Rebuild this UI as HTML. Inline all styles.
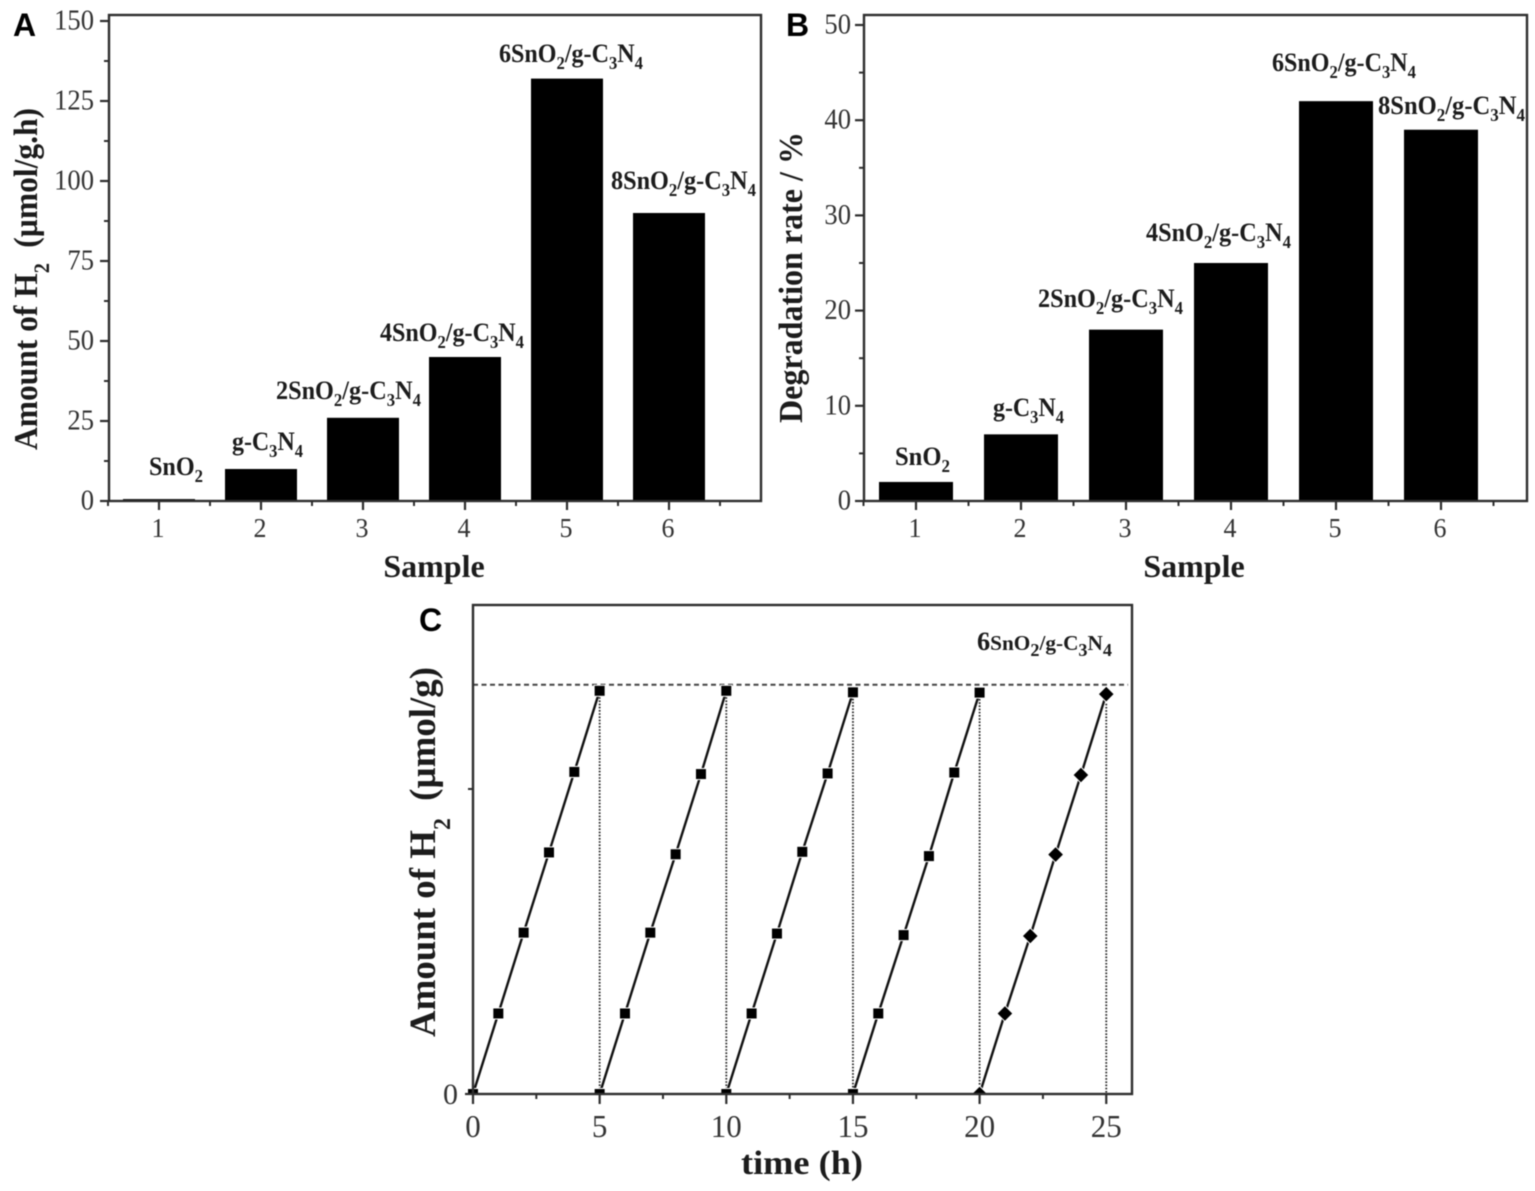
<!DOCTYPE html>
<html lang="en">
<head>
<meta charset="utf-8">
<title>SnO2/g-C3N4 photocatalysis charts</title>
<style>
  html, body { margin: 0; padding: 0; background: #fff; }
  svg { display: block; filter: blur(0.4px); }
  text { font-family: "Liberation Serif", serif; }
  .tick { fill: #333; }
  .title { font-size: 34px; font-weight: bold; fill: #1c1c1c; }
  .lab { font-size: 26px; font-weight: bold; fill: #1c1c1c; }
  .sub { font-size: 18px; }
  .panel { font-family: "Liberation Sans", sans-serif; font-size: 32px; font-weight: bold; fill: #000; }
</style>
</head>
<body>
<svg id="fig" xmlns="http://www.w3.org/2000/svg" width="1535" height="1191" viewBox="0 0 1535 1191">
  <defs>
    <clipPath id="clip-c"><rect x="460" y="600" width="680" height="494"></rect></clipPath>
  </defs>
  <rect width="1535" height="1191" fill="#fff"></rect>

  <g id="panel-a"></g>
  <g id="panel-b"></g>
  <g id="panel-c"></g>

  <text class="panel" x="13" y="36">A</text>
  <text class="panel" x="786" y="36">B</text>
  <text class="panel" x="419" y="631">C</text>

  <!-- Panel A annotations -->
  <text class="lab" x="149" y="475" textLength="54" lengthAdjust="spacingAndGlyphs">SnO<tspan class="sub" dy="7">2</tspan></text>
  <text class="lab" x="232" y="450" textLength="71" lengthAdjust="spacingAndGlyphs">g-C<tspan class="sub" dy="7">3</tspan><tspan dy="-7">N</tspan><tspan class="sub" dy="7">4</tspan></text>
  <text class="lab" x="276" y="399" textLength="145" lengthAdjust="spacingAndGlyphs">2SnO<tspan class="sub" dy="7">2</tspan><tspan dy="-7">/g-C</tspan><tspan class="sub" dy="7">3</tspan><tspan dy="-7">N</tspan><tspan class="sub" dy="7">4</tspan></text>
  <text class="lab" x="380" y="341" textLength="144" lengthAdjust="spacingAndGlyphs">4SnO<tspan class="sub" dy="7">2</tspan><tspan dy="-7">/g-C</tspan><tspan class="sub" dy="7">3</tspan><tspan dy="-7">N</tspan><tspan class="sub" dy="7">4</tspan></text>
  <text class="lab" x="499" y="62" textLength="144" lengthAdjust="spacingAndGlyphs">6SnO<tspan class="sub" dy="7">2</tspan><tspan dy="-7">/g-C</tspan><tspan class="sub" dy="7">3</tspan><tspan dy="-7">N</tspan><tspan class="sub" dy="7">4</tspan></text>
  <text class="lab" x="611" y="189" textLength="145" lengthAdjust="spacingAndGlyphs">8SnO<tspan class="sub" dy="7">2</tspan><tspan dy="-7">/g-C</tspan><tspan class="sub" dy="7">3</tspan><tspan dy="-7">N</tspan><tspan class="sub" dy="7">4</tspan></text>

  <!-- Panel B annotations -->
  <text class="lab" x="895" y="465" textLength="55" lengthAdjust="spacingAndGlyphs">SnO<tspan class="sub" dy="7">2</tspan></text>
  <text class="lab" x="993" y="416" textLength="71" lengthAdjust="spacingAndGlyphs">g-C<tspan class="sub" dy="7">3</tspan><tspan dy="-7">N</tspan><tspan class="sub" dy="7">4</tspan></text>
  <text class="lab" x="1038" y="307" textLength="145" lengthAdjust="spacingAndGlyphs">2SnO<tspan class="sub" dy="7">2</tspan><tspan dy="-7">/g-C</tspan><tspan class="sub" dy="7">3</tspan><tspan dy="-7">N</tspan><tspan class="sub" dy="7">4</tspan></text>
  <text class="lab" x="1146" y="241" textLength="145" lengthAdjust="spacingAndGlyphs">4SnO<tspan class="sub" dy="7">2</tspan><tspan dy="-7">/g-C</tspan><tspan class="sub" dy="7">3</tspan><tspan dy="-7">N</tspan><tspan class="sub" dy="7">4</tspan></text>
  <text class="lab" x="1272" y="71" textLength="144" lengthAdjust="spacingAndGlyphs">6SnO<tspan class="sub" dy="7">2</tspan><tspan dy="-7">/g-C</tspan><tspan class="sub" dy="7">3</tspan><tspan dy="-7">N</tspan><tspan class="sub" dy="7">4</tspan></text>
  <text class="lab" x="1378" y="114" textLength="147" lengthAdjust="spacingAndGlyphs">8SnO<tspan class="sub" dy="7">2</tspan><tspan dy="-7">/g-C</tspan><tspan class="sub" dy="7">3</tspan><tspan dy="-7">N</tspan><tspan class="sub" dy="7">4</tspan></text>

  <!-- Panel C annotation -->
  <text class="lab" x="977" y="650" textLength="135" lengthAdjust="spacingAndGlyphs">6<tspan style="font-size:21px">SnO</tspan><tspan class="sub" dy="6">2</tspan><tspan dy="-6" style="font-size:21px">/g-C</tspan><tspan class="sub" dy="6">3</tspan><tspan dy="-6" style="font-size:21px">N</tspan><tspan class="sub" dy="6">4</tspan></text>

  <!-- Axis titles -->
  <text class="title" style="font-size:32px" x="434" y="577" text-anchor="middle">Sample</text>
  <text class="title" style="font-size:32px" x="1194" y="577" text-anchor="middle">Sample</text>
  <text class="title" x="802" y="1174" text-anchor="middle" textLength="122" lengthAdjust="spacingAndGlyphs">time (h)</text>
  <text class="title" transform="translate(37 450) rotate(-90)" textLength="342" lengthAdjust="spacingAndGlyphs">Amount of H<tspan style="font-size:22px" dy="12">2</tspan><tspan dy="-12" dx="8"> (µmol/g.h)</tspan></text>
  <text class="title" transform="translate(802 423) rotate(-90)" textLength="291" lengthAdjust="spacingAndGlyphs">Degradation rate / %</text>
  <text class="title" style="font-size:37px" transform="translate(435 1037) rotate(-90)" textLength="370" lengthAdjust="spacingAndGlyphs">Amount of H<tspan style="font-size:24px" dy="15">2</tspan><tspan dy="-15" dx="8"> (µmol/g)</tspan></text>
</svg>

<script>
// Panel A data
const sampleCategories = [1, 2, 3, 4, 5, 6];
const hydrogenRates = [0.6, 10, 26, 45, 132, 90];
const hydrogenTicks = [0, 25, 50, 75, 100, 125, 150];
// Panel B data
const degradationRates = [2, 7, 18, 25, 42, 39];
const degradationTicks = [0, 10, 20, 30, 40, 50];
// Panel C data
const timeTicks = [0, 5, 10, 15, 20, 25];
const cycleStartTimes = [0, 5, 10, 15, 20];
const cycle1Amounts = [0, 0.264, 0.529, 0.792, 1.056, 1.322];
const cycle2Amounts = [0, 0.264, 0.529, 0.786, 1.049, 1.322];
const cycle3Amounts = [0, 0.264, 0.526, 0.794, 1.051, 1.317];
const cycle4Amounts = [0, 0.264, 0.521, 0.780, 1.054, 1.316];
const cycle5Amounts = [0, 0.264, 0.518, 0.785, 1.046, 1.311];
const referenceLevel = 1.342;

const SVG_NS = 'http://www.w3.org/2000/svg';
const AXIS = '#2e2e2e';

function shape(parent, tag, attrs, text) {
  const el = document.createElementNS(SVG_NS, tag);
  for (const k in attrs) el.setAttribute(k, attrs[k]);
  if (text !== undefined) el.textContent = text;
  parent.appendChild(el);
  return el;
}

function hLine(parent, x1, x2, y, w) {
  return shape(parent, 'line', { x1: x1, x2: x2, y1: y, y2: y, stroke: AXIS, 'stroke-width': w });
}
function vLine(parent, x, y1, y2, w) {
  return shape(parent, 'line', { x1: x, x2: x, y1: y1, y2: y2, stroke: AXIS, 'stroke-width': w });
}

function tickText(parent, value, x, y, anchor, size, digitW) {
  const s = String(value);
  return shape(parent, 'text', {
    class: 'tick', x: x, y: y, 'text-anchor': anchor,
    style: 'font-size:' + size + 'px',
    textLength: s.length * digitW, lengthAdjust: 'spacingAndGlyphs'
  }, s);
}

function drawFrame(parent, box) {
  const el = shape(parent, 'rect', {
    x: box.left, y: box.top, width: box.right - box.left, height: box.bottom - box.top,
    fill: 'none', stroke: AXIS, 'stroke-width': 2.4
  });
  
  
}

function drawBarPanel(parent, cfg) {
  const x = function (c) { return cfg.x1 + (c - 1) * cfg.xStep; };
  const y = function (v) { return cfg.y0 - (v / cfg.yMax) * (cfg.y0 - cfg.yTop); };

  cfg.values.forEach(function (v, i) {
    const bar = shape(parent, 'rect', {
      x: x(cfg.categories[i]) - cfg.barW / 2, y: y(v),
      width: cfg.barW, height: cfg.y0 - y(v), fill: '#000'
    });
    
    
  });

  drawFrame(parent, cfg.box);

  cfg.yTicks.forEach(function (t, i) {
    const tick = hLine(parent, cfg.box.left - 9, cfg.box.left, y(t), 2.2);
    
    
    const label = tickText(parent, t, cfg.box.left - cfg.labelGap, y(t) + 8.5, 'end', 28, 13.3);
    
    
    if (i < cfg.yTicks.length - 1) {
      const minor = hLine(parent, cfg.box.left - 5, cfg.box.left, y((t + cfg.yTicks[i + 1]) / 2), 2);
      
      
    }
  });

  cfg.categories.forEach(function (c) {
    const tick = vLine(parent, x(c), cfg.box.bottom, cfg.box.bottom + 9, 2.2);
    
    
    const label = tickText(parent, c, x(c) - 1, 537, 'middle', 27, 13);
    
    
    const before = vLine(parent, x(c - 0.5), cfg.box.bottom, cfg.box.bottom + 5, 2);
    
    
  });
  const last = cfg.categories[cfg.categories.length - 1];
  const lastMinor = vLine(parent, x(last + 0.5), cfg.box.bottom, cfg.box.bottom + 5, 2);
  
  
}

drawBarPanel(document.getElementById('panel-a'), {
  categories: sampleCategories, values: hydrogenRates, yTicks: hydrogenTicks, yMax: 150,
  box: { left: 109, right: 761, top: 15, bottom: 501 },
  x1: 159, xStep: 102, barW: 72, y0: 501, yTop: 21, labelGap: 15
});

drawBarPanel(document.getElementById('panel-b'), {
  categories: sampleCategories, values: degradationRates, yTicks: degradationTicks, yMax: 50,
  box: { left: 864, right: 1527, top: 15, bottom: 501 },
  x1: 916, xStep: 105, barW: 74, y0: 501, yTop: 25, labelGap: 13
});

// Panel C
(function () {
  const parent = document.getElementById('panel-c');
  const box = { left: 473, right: 1132, top: 605, bottom: 1094 };
  const x = function (t) { return 473 + t * 25.33; };
  const y = function (v) { return 1094 - v * 305; };
  const cycles = [cycle1Amounts, cycle2Amounts, cycle3Amounts, cycle4Amounts, cycle5Amounts];

  const ref = shape(parent, 'line', {
    x1: box.left, x2: 1128, y1: y(referenceLevel), y2: y(referenceLevel),
    stroke: '#444', 'stroke-width': 2, 'stroke-dasharray': '5 3.5'
  });
  
  

  cycles.forEach(function (amounts, c) {
    const start = cycleStartTimes[c];
    const peak = amounts[amounts.length - 1];
    const end = start + amounts.length - 1;

    const guide = shape(parent, 'line', {
      x1: x(end), x2: x(end), y1: y(peak), y2: y(0),
      stroke: '#222', 'stroke-width': 1.8, 'stroke-dasharray': '1.6 1.6'
    });
    
    

    const pts = amounts.map(function (v, i) { return x(start + i) + ',' + y(v); }).join(' ');
    const line = shape(parent, 'polyline', { points: pts, fill: 'none', stroke: '#111', 'stroke-width': 2.4 });
    
    
  });

  const markers = shape(parent, 'g', { 'clip-path': 'url(#clip-c)' });
  
  

  cycles.forEach(function (amounts, c) {
    const start = cycleStartTimes[c];
    amounts.forEach(function (v, i) {
      const cx = x(start + i);
      const cy = y(v);
      let mark;
      if (c === 4) {
        const r = 8;
        mark = shape(markers, 'polygon', {
          points: cx + ',' + (cy - r) + ' ' + (cx + r) + ',' + cy + ' ' + cx + ',' + (cy + r) + ' ' + (cx - r) + ',' + cy,
          fill: '#000', stroke: '#fff', 'stroke-width': 1
        });
      } else {
        mark = shape(markers, 'rect', {
          x: cx - 5.5, y: cy - 5.5, width: 11, height: 11,
          fill: '#000', stroke: '#fff', 'stroke-width': 1
        });
      }
      
      
    });
  });

  drawFrame(parent, box);

  timeTicks.forEach(function (t, i) {
    const tick = vLine(parent, x(t), box.bottom, box.bottom + 10, 2.2);
    
    
    const label = tickText(parent, t, x(t), 1137, 'middle', 32, 15.5);
    
    
    if (i < timeTicks.length - 1) {
      const minor = vLine(parent, x((t + timeTicks[i + 1]) / 2), box.bottom, box.bottom + 5, 2);
      
      
    }
  });

  const yZero = hLine(parent, box.left - 8, box.left, y(0), 2.2);
  
  
  const yMinor = hLine(parent, box.left - 5, box.left, y(1), 2);
  
  
  const yLabel = tickText(parent, 0, 458, 1104, 'end', 30, 15);
  
  
})();
</script>
</body>
</html>
